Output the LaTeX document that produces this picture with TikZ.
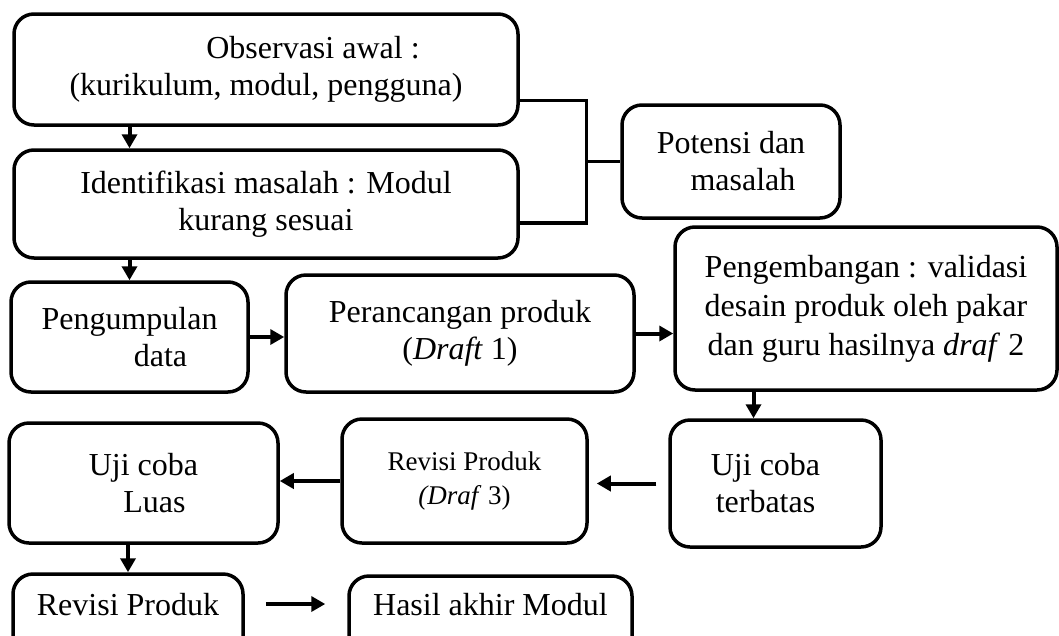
\documentclass[tikz,border=0pt]{standalone}
\usepackage{fontspec}
\setmainfont{Liberation Serif}
\usetikzlibrary{arrows.meta}

\begin{document}
\begin{tikzpicture}[x=1pt,y=-1pt,
    bnode/.style={draw,rounded corners=20pt,line width=3.5pt,align=center,font=\fontsize{32}{37}\selectfont},
    arr/.style={line width=4pt,-{Triangle[length=14pt,width=15pt]}},
    lnk/.style={line width=3.5pt}]
    \useasboundingbox (0,0) rectangle (1059,635);
    \clip (0,0) rectangle (1059,635);

    \node[bnode,minimum width=504pt,minimum height=111pt] (obs) at (266,69.5) {\hspace*{94pt}Observasi awal :\\(kurikulum, modul, pengguna)};
    \node[bnode,minimum width=504pt,minimum height=108pt] (iden) at (266,204) {Identifikasi masalah : Modul\\kurang sesuai};
    \node[bnode,minimum width=218pt,minimum height=113pt] (pot) at (731,161.5) {Potensi dan\\\hspace*{24pt}masalah};
    \node[bnode,minimum width=237pt,minimum height=110pt] (kump) at (129.5,337) {Pengumpulan\\\hspace*{62pt}data};
    \node[bnode,minimum width=348pt,minimum height=117pt] (ranc) at (460,333.5) {Perancangan produk\\(\textit{Draft} 1)};
    \node[bnode,minimum width=382pt,minimum height=163pt,font=\fontsize{32}{39}\selectfont] (kemb) at (866,308.5) {Pengembangan : validasi\\desain produk oleh pakar\\dan guru hasilnya \textit{draf} 2};
    \node[bnode,minimum width=211pt,minimum height=127pt] (terb) at (775.5,483.5) {Uji coba\hspace*{20pt}\\terbatas\hspace*{20pt}};
    \node[bnode,minimum width=245pt,minimum height=124pt,font=\fontsize{27}{34}\selectfont] (rev3) at (464.5,481) {Revisi Produk\\\textit{(Draf} 3)};
    \node[bnode,minimum width=269pt,minimum height=120pt] (luas) at (143.5,483) {Uji coba\\\hspace*{22pt}Luas};
    \node[bnode,minimum width=230pt,minimum height=100pt] (rev) at (128,624) {\raisebox{9pt}[0pt][0pt]{Revisi Produk}};
    \node[bnode,minimum width=283pt,minimum height=100pt] (hasil) at (490.5,626) {\raisebox{11pt}[0pt][0pt]{Hasil akhir Modul}};

    \coordinate (join) at ([xshift=-34pt]pot.west);
    \draw[lnk] ([yshift=-31pt]obs.east) -| (join) |- ([yshift=-19pt]iden.east);
    \draw[lnk] (join) -- (pot.west);

    \draw[arr] (obs.south -| kump.north) -- (iden.north -| kump.north);
    \draw[arr] (iden.south -| kump.north) -- (kump.north);
    \draw[arr] (kump.east) -- (kump.east -| ranc.west);
    \draw[arr] (ranc.east) -- (ranc.east -| kemb.west);
    \draw[arr] ([xshift=-22pt]terb.north |- kemb.south) -- ([xshift=-22pt]terb.north);
    \draw[arr] ([xshift=-12pt]terb.west) -- ([xshift=8pt]terb.west -| rev3.east);
    \draw[arr] (rev3.west) -- (rev3.west -| luas.east);
    \draw[arr] (luas.south -| rev.north) -- (rev.north);
    \draw[arr] ([xshift=21pt,yshift=20pt]rev.east) -- ([xshift=-22pt,yshift=20pt]hasil.west |- rev.east);
\end{tikzpicture}
\end{document}
